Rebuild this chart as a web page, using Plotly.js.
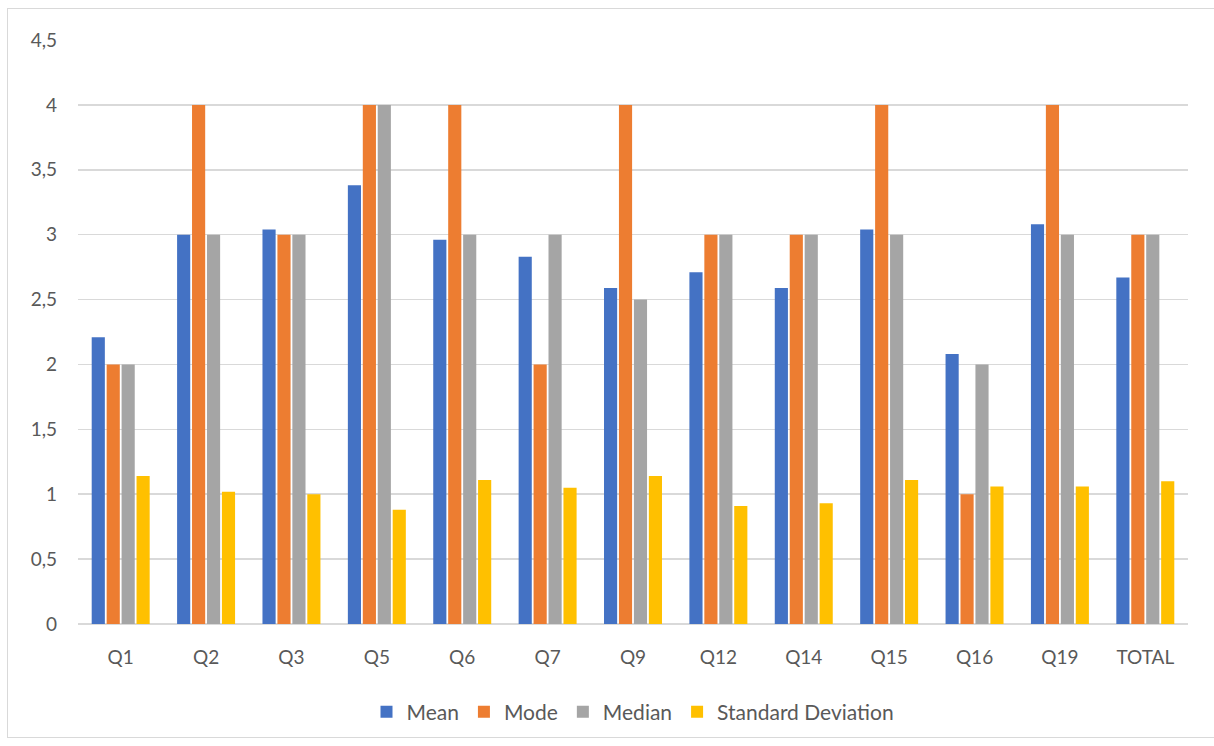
<!DOCTYPE html>
<html>
<head>
<meta charset="utf-8">
<script src="https://cdn.plot.ly/plotly-3.0.1.min.js"></script>
<style>
  html, body { margin: 0; padding: 0; background: #fff; }
  #frame { position: absolute; left: 7px; top: 8px; width: 1212px; height: 730px; border: 1px solid #d9d9d9; box-sizing: border-box; }
  #chart { position: absolute; left: 0; top: 0; width: 1214px; height: 746px; }
</style>
</head>
<body>
<div id="frame"></div>
<div id="chart"></div>
<script>
const categories = ["Q1","Q2","Q3","Q5","Q6","Q7","Q9","Q12","Q14","Q15","Q16","Q19","TOTAL"];
const meanValues   = [2.21, 3.00, 3.04, 3.38, 2.96, 2.83, 2.59, 2.71, 2.59, 3.04, 2.08, 3.08, 2.67];
const modeValues   = [2, 4, 3, 4, 4, 2, 4, 3, 3, 4, 1, 4, 3];
const medianValues = [2, 3, 3, 4, 3, 3, 2.5, 3, 3, 3, 2, 3, 3];
const sdValues     = [1.14, 1.02, 1.00, 0.88, 1.11, 1.05, 1.14, 0.91, 0.93, 1.11, 1.06, 1.06, 1.10];
const yTicks = [0, 0.5, 1, 1.5, 2, 2.5, 3, 3.5, 4, 4.5];

const series = [
  {name: "Mean", y: meanValues, color: "#4472c4"},
  {name: "Mode", y: modeValues, color: "#ed7d31"},
  {name: "Median", y: medianValues, color: "#a5a5a5"},
  {name: "Standard Deviation", y: sdValues, color: "#ffc000"}
];

const traces = series.map(s => ({
  type: "bar",
  name: s.name,
  x: categories,
  y: s.y,
  marker: {color: s.color},
  hoverinfo: "x+y+name"
}));

const layout = {
  width: 1214, height: 746,
  margin: {l: 78, r: 26, t: 40, b: 122},
  paper_bgcolor: "rgba(0,0,0,0)",
  plot_bgcolor: "rgba(0,0,0,0)",
  separators: ", ",
  barmode: "group",
  bargap: 0.3,
  bargroupgap: 0.12,
  font: {family: "Lato, sans-serif", color: "#595959", size: 18},
  xaxis: {
    type: "category",
    showgrid: false,
    showline: false,
    ticks: "",
    tickfont: {size: 19, color: "#595959"},
    ticklabelstandoff: 20
  },
  yaxis: {
    range: [0, 4.5],
    tickvals: yTicks,
    ticktext: yTicks.map(v => String(v).replace(".", ",")),
    showgrid: true,
    gridcolor: "#d9d9d9",
    gridwidth: 1.5,
    zeroline: true,
    zerolinecolor: "#d9d9d9",
    zerolinewidth: 1.5,
    showline: false,
    ticks: "",
    ticklabelstandoff: 20,
    tickfont: {size: 19, color: "#595959"}
  },
  showlegend: true,
  legend: {
    orientation: "h",
    x: 0.5, xanchor: "center",
    y: -0.151, yanchor: "middle",
    font: {size: 21, color: "#595959"},
    itemwidth: 30,
    traceorder: "normal"
  }
};

Plotly.newPlot("chart", traces, layout, {displayModeBar: false, staticPlot: true});
</script>
</body>
</html>
